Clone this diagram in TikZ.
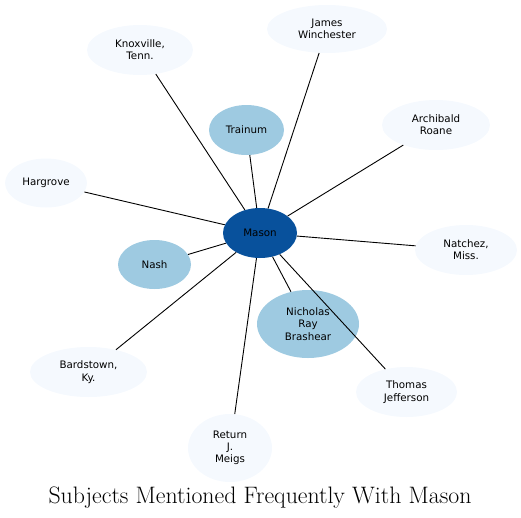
\documentclass[tikz,border=0pt]{standalone}
\usepackage{fontspec}
\newfontfamily\labelfont{DejaVu Sans}
\usetikzlibrary{shapes.geometric}
\definecolor{hub}{HTML}{08519C}
\definecolor{mid}{HTML}{9ECAE1}
\definecolor{pale}{HTML}{F5F9FE}
\tikzset{
  ent/.style={ellipse, inner sep=0pt, align=center, text=black,
    font=\labelfont\fontsize{10.3}{12.3}\selectfont},
  hubnode/.style={ent, fill=hub},
  midnode/.style={ent, fill=mid},
  palenode/.style={ent, fill=pale},
  link/.style={draw=black, line width=0.9pt}
}
\begin{document}
\begin{tikzpicture}[x=1pt, y=-1pt]
\useasboundingbox (0,0) rectangle (521,517);
\node[hubnode, minimum width=74pt, minimum height=50pt] (mason) at (260,233) {Mason};
\node[midnode, minimum width=75pt, minimum height=50pt] (trainum) at (246.5,130) {Trainum};
\node[midnode, minimum width=73pt, minimum height=49pt] (nash) at (154.5,264.5) {Nash};
\node[midnode, minimum width=102pt, minimum height=68pt] (nicholas) at (308,324) {Nicholas\\Ray\\Brashear};
\node[palenode, minimum width=82pt, minimum height=49pt] (hargrove) at (46,183) {Hargrove};
\node[palenode, minimum width=120pt, minimum height=48pt] (james) at (327,29) {James\\Winchester};
\node[palenode, minimum width=106pt, minimum height=50pt] (knox) at (140,50) {Knoxville,\\Tenn.};
\node[palenode, minimum width=108pt, minimum height=50pt] (archibald) at (436,125) {Archibald\\Roane};
\node[palenode, minimum width=102pt, minimum height=50pt] (natchez) at (466,250) {Natchez,\\Miss.};
\node[palenode, minimum width=101pt, minimum height=50pt] (thomas) at (406.5,392) {Thomas\\Jefferson};
\node[palenode, minimum width=84pt, minimum height=68pt] (return) at (230,448) {Return\\J.\\Meigs};
\node[palenode, minimum width=117pt, minimum height=50pt] (bardstown) at (88.5,372) {Bardstown,\\Ky.};
\foreach \t in {trainum,nash,nicholas,hargrove,james,knox,archibald,natchez,thomas,return,bardstown}
  \draw[link] (mason) -- (\t);
\node[font=\fontsize{23.8}{28}\selectfont, anchor=base] (title) at (260,503) {Subjects Mentioned Frequently With Mason};
\end{tikzpicture}
\end{document}
